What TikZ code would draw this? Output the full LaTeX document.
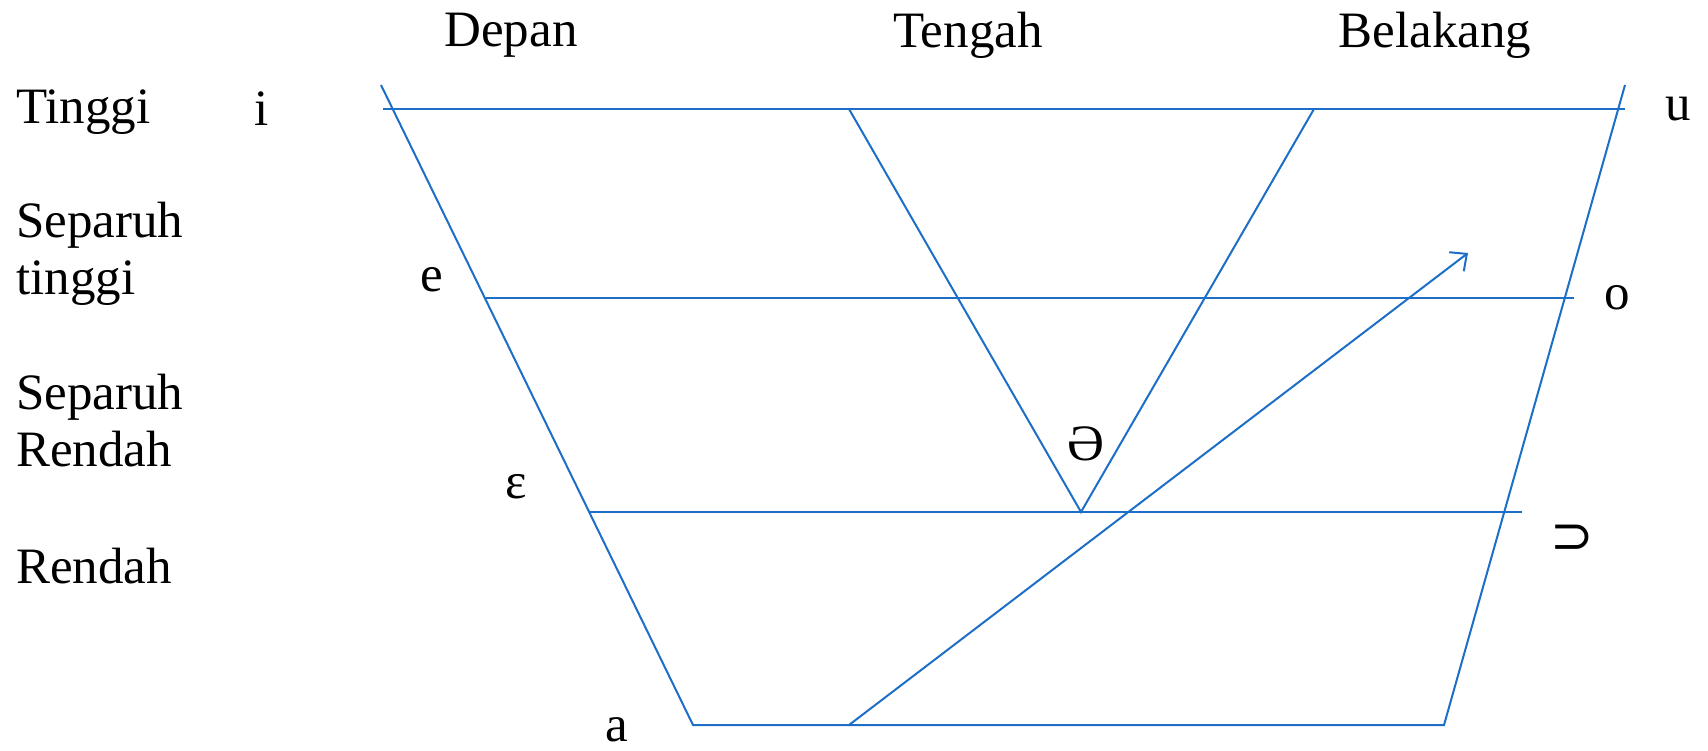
\documentclass[tikz,border=0pt]{standalone}
\usepackage{fontspec}
\setmainfont{Liberation Serif}
\newfontfamily\symfont{DejaVu Sans}
\usetikzlibrary{arrows.meta}
\definecolor{chartblue}{RGB}{28,110,198}
\tikzset{
  chart/.style={draw=chartblue, line width=2pt},
  lbl/.style={font=\fontsize{51}{57}\selectfont, inner sep=0pt},
  leftlbl/.style={lbl, anchor=west, align=left},
}
\begin{document}
\begin{tikzpicture}[x=1pt,y=-1pt]
\useasboundingbox (0,0) rectangle (1708,750);
% corner and junction points
\coordinate (LT) at (381,85);
\coordinate (LB) at (693,725);
\coordinate (RT) at (1625,85);
\coordinate (RB) at (1444,725);
\coordinate (H1a) at (383,109);
\coordinate (H1b) at (1625,109);
\coordinate (H2a) at (486,298);
\coordinate (H2b) at (1574,298);
\coordinate (H3a) at (589,512);
\coordinate (H3b) at (1522,512);
\coordinate (V1) at (849,109);
\coordinate (V2) at (1081,512);
\coordinate (V3) at (1314,109);
\coordinate (AS) at (849,725);
\coordinate (AE) at (1468,253);
% frame
\draw[chart] (LT) -- (LB) -- (RB) -- (RT);
\draw[chart] (H1a) -- (H1b);
\draw[chart] (H2a) -- (H2b);
\draw[chart] (H3a) -- (H3b);
\draw[chart] (V1) -- (V2) -- (V3);
\draw[chart, -{Straight Barb[length=13pt,width=24pt,line width=2pt]}] (AS) -- (AE);
% column labels
\node[lbl] (depan) at (511,35) {Depan};
\node[lbl] (tengah) at (968,35) {Tengah};
\node[lbl] (belakang) at (1435,35) {Belakang};
% row labels
\node[leftlbl] (tinggi) at (16,112) {Tinggi};
\node[leftlbl] (st) at (16,254) {Separuh\\tinggi};
\node[leftlbl] (sr) at (16,421) {Separuh\\Rendah};
\node[leftlbl] (rendah) at (16,566) {Rendah};
% vowels
\node[lbl] (vi) at (262,109) {i};
\node[lbl] (vu) at (1678,109) {u};
\node[lbl] (ve) at (432,280) {e};
\node[lbl] (vo) at (1617,298) {o};
\node[lbl] (veps) at (516,487) {ε};
\node[lbl] (vschwa) at (1086,444) {Ə};
\node[lbl, font=\symfont\fontsize{52}{57}\selectfont] (vopen) at (1572,539) {⊃};
\node[lbl] (va) at (617,730) {a};
\end{tikzpicture}
\end{document}
